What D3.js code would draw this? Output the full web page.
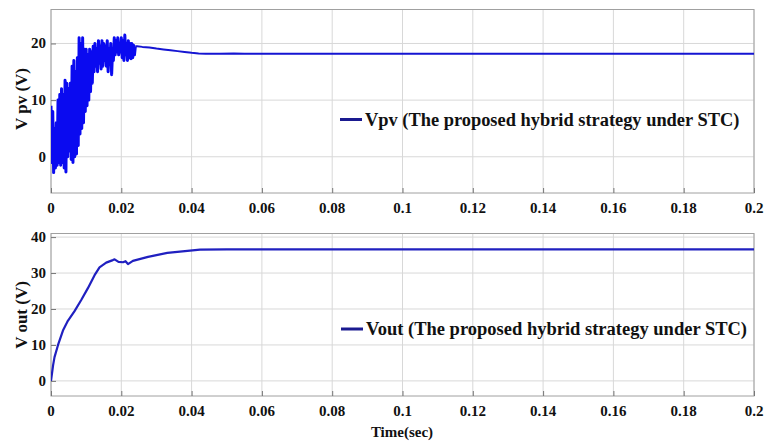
<!DOCTYPE html>
<html><head><meta charset="utf-8">
<script src="https://cdn.jsdelivr.net/npm/d3@7"></script>
<style>body{margin:0;background:#fff}svg{display:block}text{font-family:"Liberation Serif","Times New Roman",serif;font-weight:bold;fill:#111}</style>
</head><body><svg id="c" width="766" height="443"></svg>
<script>
// ---- data ----
const xTicks = [0,0.02,0.04,0.06,0.08,0.1,0.12,0.14,0.16,0.18,0.2];
const xTickLabels = ["0","0.02","0.04","0.06","0.08","0.1","0.12","0.14","0.16","0.18","0.2"];
const vpvTicks = [0,10,20];
const voutTicks = [0,10,20,30,40];
// Vpv: oscillating start-up (sampled every 0.25 ms, alternating peaks/valleys), then settling
const vpvOscTime = [0,0.00025,0.0005,0.00075,0.001,0.00125,0.0015,0.00175,0.002,0.00225,0.0025,0.00275,0.003,0.00325,0.0035,0.00375,0.004,0.00425,0.0045,0.00475,0.005,0.00525,0.0055,0.00575,0.006,0.00625,0.0065,0.00675,0.007,0.00725,0.0075,0.00775,0.008,0.00825,0.0085,0.00875,0.009,0.00925,0.0095,0.00975,0.01,0.01025,0.0105,0.01075,0.011,0.01125,0.0115,0.01175,0.012,0.01225,0.0125,0.01275,0.013,0.01325,0.0135,0.01375,0.014,0.01425,0.0145,0.01475,0.015,0.01525,0.0155,0.01575,0.016,0.01625,0.0165,0.01675,0.017,0.01725,0.0175,0.01775,0.018,0.01825,0.0185,0.01875,0.019,0.01925,0.0195,0.01975,0.02,0.02025,0.0205,0.02075,0.021,0.02125,0.0215,0.02175,0.022,0.02225,0.0225,0.02275,0.023,0.02325,0.0235,0.02375,0.024];
const vpvOscValue = [9,-1,8,-2.8,5,-2,6,-1.5,10,-1,11,-1.5,12,-1,11,-2,13.5,-2.7,13,0,12,1,13,-0.5,16,-1,17,0,15,0.5,17.5,2,21,4,20,5,21,6,19,8,19,9,18,10,19,11.5,18.5,13,19.5,15,20,16,19,15,20.5,16.5,19.5,15.5,20.5,16,20,17,19.5,16,20.5,15,19,16.5,20,14.5,18.5,17,21,18,20.5,18.5,21,18,20,18.5,21,17.5,20.5,17,21.5,18,20,17,20.5,17.5,20,17.3,20,17.5,19.7,18,19.5];
const vpvTailTime = [0.024,0.0245,0.026,0.028,0.03,0.032,0.034,0.036,0.038,0.04,0.042,0.044,0.048,0.052,0.055,0.06,0.08,0.1,0.12,0.14,0.16,0.18,0.2];
const vpvTailValue = [19.5,19.5,19.4,19.3,19.1,18.95,18.8,18.65,18.5,18.35,18.25,18.2,18.2,18.25,18.2,18.2,18.2,18.2,18.2,18.2,18.2,18.2,18.2];
// Vout
const voutTime = [0,0.0006,0.001,0.002,0.0034,0.0048,0.0067,0.0086,0.0105,0.0124,0.0138,0.0157,0.0176,0.0181,0.0192,0.0205,0.0212,0.0219,0.0233,0.0276,0.0331,0.0424,0.05,0.06,0.08,0.1,0.12,0.14,0.16,0.18,0.2];
const voutValue = [0,4.4,6.6,10,14,16.7,19.4,22.5,25.8,29.4,31.6,32.9,33.6,33.8,33.1,33.0,33.3,32.5,33.4,34.5,35.6,36.5,36.6,36.6,36.6,36.6,36.6,36.6,36.6,36.6,36.6];
const legendVpv = "Vpv (The proposed hybrid strategy under STC)";
const legendVout = "Vout (The proposed hybrid strategy under STC)";

// ---- drawing ----
const svg = d3.select("#c");
const L = 51, R = 754;
const x = d3.scaleLinear().domain([0,0.2]).range([L,R]);

function panel(top, bottom, yDomain, yTicks, series, legend, lg, legendSize, ylabel, ylabY) {
  const y = d3.scaleLinear().domain(yDomain).range([bottom, top]);
  const g = svg.append("g");
  g.selectAll(".gx").data(xTicks).join("line")
    .attr("x1", d=>x(d)).attr("x2", d=>x(d)).attr("y1", top).attr("y2", bottom)
    .attr("stroke", "#d8d8d8").attr("stroke-width", 1);
  g.selectAll(".gy").data(yTicks).join("line")
    .attr("x1", L).attr("x2", R).attr("y1", d=>y(d)).attr("y2", d=>y(d))
    .attr("stroke", "#d8d8d8").attr("stroke-width", 1);
  g.append("rect").attr("x", L).attr("y", top).attr("width", R-L).attr("height", bottom-top)
    .attr("fill", "none").attr("stroke", "#a0a0a0").attr("stroke-width", 1);
  const xa = d3.axisBottom(x).tickValues(xTicks).tickSize(-5).tickFormat("");
  g.append("g").attr("transform", `translate(0,${bottom})`).call(xa)
    .call(s=>{s.select(".domain").remove(); s.selectAll("line").attr("stroke","#777");});
  const ya = d3.axisLeft(y).tickValues(yTicks).tickSize(-5).tickFormat("");
  g.append("g").attr("transform", `translate(${L},0)`).call(ya)
    .call(s=>{s.select(".domain").remove(); s.selectAll("line").attr("stroke","#777");});
  g.selectAll(".xl").data(xTicks).join("text")
    .attr("x", d=>x(d)).attr("y", bottom+20).attr("text-anchor","middle")
    .style("font-size","15px").text((d,i)=>xTickLabels[i]);
  g.selectAll(".yl").data(yTicks).join("text")
    .attr("x", L-5).attr("y", d=>y(d)+5).attr("text-anchor","end")
    .style("font-size","15px").text(d=>d);
  const clip = "clip"+Math.round(top);
  svg.append("clipPath").attr("id", clip).append("rect")
    .attr("x", L).attr("y", top).attr("width", R-L).attr("height", bottom-top);
  series.forEach(s => {
    g.append("path").datum(s.pts).attr("clip-path", `url(#${clip})`)
      .attr("fill","none").attr("stroke", s.color).attr("stroke-width", s.w).attr("stroke-linejoin","round")
      .attr("d", d3.line().x(d=>x(d[0])).y(d=>y(d[1])));
  });
  g.append("line").attr("x1", lg.x).attr("x2", lg.x+22).attr("y1", lg.y).attr("y2", lg.y)
    .attr("stroke", "#1a1a90").attr("stroke-width", 3);
  g.append("text").attr("x", lg.x+25).attr("y", lg.y+6).style("font-size", legendSize+"px").text(legend);
  g.append("text").attr("transform", `translate(27,${ylabY}) rotate(-90)`).attr("text-anchor","middle")
    .style("font-size","17px").text(ylabel);
}

const vpvOsc = vpvOscTime.map((t,i)=>[t, vpvOscValue[i]]);
const vpvTail = vpvTailTime.map((t,i)=>[t, vpvTailValue[i]]);
const voutPts = voutTime.map((t,i)=>[t, voutValue[i]]);

panel(9.5, 193, [-6.4, 26], vpvTicks,
  [{pts: vpvOsc, color: "#0a0af0", w: 3}, {pts: vpvTail, color: "#1515d2", w: 2}],
  legendVpv, {x:340, y:119.5}, 18.4, "V pv (V)", 99);
panel(233.5, 396, [-4.2, 41], voutTicks,
  [{pts: voutPts, color: "#2020c0", w: 2.2}],
  legendVout, {x:341, y:329}, 18.5, "V out (V)", 315);

svg.append("text").attr("x", 402).attr("y", 437).attr("text-anchor","middle").style("font-size","15px").text("Time(sec)");
</script></body></html>
